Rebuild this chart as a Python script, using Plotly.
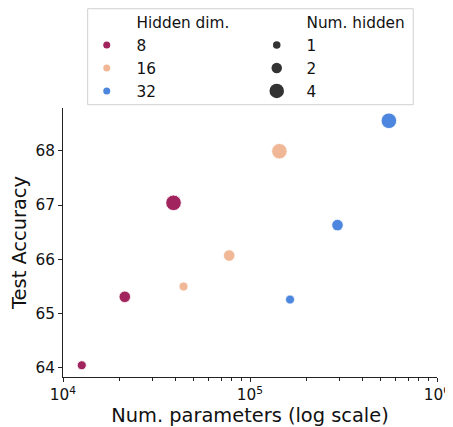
import plotly.graph_objects as go

# ---- data ----
hidden_dims = ["8", "16", "32"]
num_hidden = ["1", "2", "4"]
params_8 = [12600, 21400, 39000]
acc_8 = [64.05, 65.31, 67.04]
params_16 = [44100, 77400, 143600]
acc_16 = [65.50, 66.07, 67.99]
params_32 = [163700, 293700, 553000]
acc_32 = [65.26, 66.63, 68.55]
x_tickvals = [1e4, 1e5, 1e6]
x_ticktext = ["10<sup>4</sup>", "10<sup>5</sup>", "10<sup>6</sup>"]
y_tickvals = [64, 65, 66, 67, 68]

colors = {"8": "#a1245f", "16": "#f0b896", "32": "#4d86de"}
sizes = {"1": 9, "2": 11.5, "4": 15.5}
legend_sizes = {"1": 7.5, "2": 10.5, "4": 14.5}

series = {"8": (params_8, acc_8), "16": (params_16, acc_16), "32": (params_32, acc_32)}

FONT = "DejaVu Sans"
NB = "\u00a0\u00a0"
TICK_SIZE = 15.3
LEG_SIZE = 15.3
TITLE_SIZE = 19.4

fig = go.Figure()

# data traces (not in legend)
for hd in hidden_dims:
    xs, ys = series[hd]
    fig.add_trace(go.Scatter(
        x=xs, y=ys, mode="markers",
        marker=dict(color=colors[hd], size=[sizes[n] for n in num_hidden], opacity=1,
                    line=dict(color="white", width=0.8)),
        showlegend=False, hoverinfo="x+y"))

# legend 1: hidden dim
fig.add_trace(go.Scatter(x=[None], y=[None], mode="markers", name=NB + "Hidden dim.",
                         marker=dict(opacity=0, size=8, color="white"),
                         legend="legend", legendgroup="h0", showlegend=True))
for i, hd in enumerate(hidden_dims):
    fig.add_trace(go.Scatter(x=[None], y=[None], mode="markers", name=NB + hd,
                             marker=dict(color=colors[hd], size=7, opacity=1),
                             legend="legend", legendgroup="h" + str(i + 1), showlegend=True))

# legend 2: num hidden
fig.add_trace(go.Scatter(x=[None], y=[None], mode="markers", name=NB + "Num. hidden",
                         marker=dict(opacity=0, size=8, color="white"),
                         legend="legend2", legendgroup="n0", showlegend=True))
for i, n in enumerate(num_hidden):
    fig.add_trace(go.Scatter(x=[None], y=[None], mode="markers", name=NB + n,
                             marker=dict(color="#333333", size=legend_sizes[n], opacity=1),
                             legend="legend2", legendgroup="n" + str(i + 1), showlegend=True))

leg_common = dict(font=dict(family=FONT, size=LEG_SIZE, color="#111111"),
                  bgcolor="rgba(0,0,0,0)", borderwidth=0, tracegroupgap=0,
                  itemsizing="trace", xanchor="left", yanchor="top",
                  itemclick=False, itemdoubleclick=False)

minor_vals = [m * 10 ** k for k in (4, 5) for m in range(2, 10)]

fig.update_layout(
    width=445, height=419,
    margin=dict(l=55, r=16, t=100, b=50, autoexpand=False),
    paper_bgcolor="white", plot_bgcolor="white",
    font=dict(family=FONT, size=LEG_SIZE, color="#111111"),
    legend=dict(x=0.0635, y=1.38, **leg_common),
    legend2=dict(x=0.518, y=1.38, **leg_common),
    xaxis=dict(type="log", range=[4, 6], showgrid=False, zeroline=False, automargin=False,
               showline=True, linecolor="#222222", linewidth=1,
               ticks="outside", ticklen=4, tickwidth=1, tickcolor="#222222",
               tickmode="array", tickvals=x_tickvals, ticktext=x_ticktext,
               ticklabeloverflow="allow",
               tickfont=dict(family=FONT, size=TICK_SIZE, color="#111111"),
               minor=dict(tickmode="array", tickvals=minor_vals, ticks="outside",
                          ticklen=2.5, tickwidth=0.8, tickcolor="#222222"),
               title=dict(text="Num. parameters (log scale)",
                          font=dict(family=FONT, size=TITLE_SIZE, color="#111111"), standoff=2)),
    yaxis=dict(range=[63.834, 68.786], showgrid=False, zeroline=False, automargin=False,
               showline=True, linecolor="#222222", linewidth=1,
               ticks="outside", ticklen=4, tickwidth=1, tickcolor="#222222",
               tickmode="array", tickvals=y_tickvals,
               tickfont=dict(family=FONT, size=TICK_SIZE, color="#111111"),
               title=dict(text="Test Accuracy",
                          font=dict(family=FONT, size=TITLE_SIZE, color="#111111"), standoff=6)),
    shapes=[dict(type="rect", xref="paper", yref="paper",
                 x0=0.066, x1=0.9365, y0=1.0122, y1=1.369,
                 line=dict(color="#d0d0d0", width=1), fillcolor="rgba(0,0,0,0)")],
)

fig.write_html("out.html")
